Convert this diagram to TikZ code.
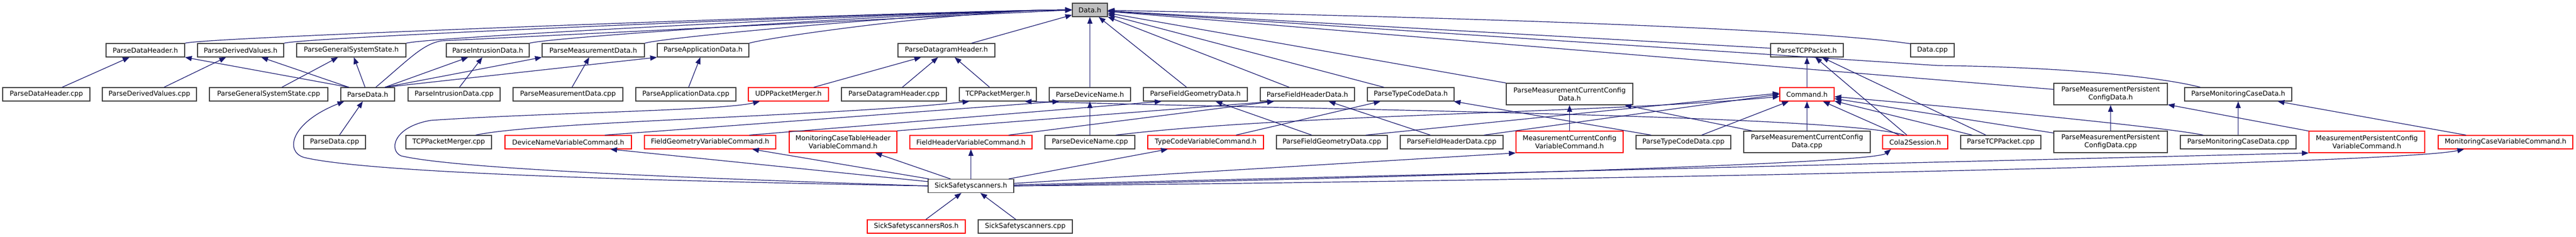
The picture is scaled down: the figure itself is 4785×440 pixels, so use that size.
\documentclass[tikz,border=0pt]{standalone}
\usepackage{fontspec}
\usetikzlibrary{arrows.meta}
\newfontfamily\doxfont{DejaVu Sans}
\definecolor{edgeblue}{HTML}{191970}
\definecolor{boxgray}{HTML}{404040}
\definecolor{rootgray}{HTML}{BFBFBF}
\tikzset{
  file/.style={draw=boxgray, line width=1.3pt, fill=white, inner sep=0pt, minimum height=25pt, font={\doxfont\fontsize{12.6}{15}\selectfont}},
  trunc/.style={file, draw=red},
  root/.style={file, fill=rootgray},
  twoline/.style={minimum height=40pt, align=center},
  incl/.style={draw=edgeblue, line width=1.2pt, -{Triangle[length=12.5pt, width=9.5pt]}}
}
\begin{document}
\begin{tikzpicture}[x=1pt, y=-1pt]
    \useasboundingbox (0,0) rectangle (4785,440);

    \node[root, minimum width=65pt] (data_h) at (2024.5,18.5) {Data.h};

    \node[file, minimum width=146pt] (pdh_h) at (270,93.5) {ParseDataHeader.h};
    \node[file, minimum width=160pt] (pdv_h) at (447,93.5) {ParseDerivedValues.h};
    \node[file, minimum width=203pt] (pgs_h) at (652.5,93.5) {ParseGeneralSystemState.h};
    \node[file, minimum width=154pt] (pid_h) at (906,93.5) {ParseIntrusionData.h};
    \node[file, minimum width=190pt] (pmd_h) at (1102,93.5) {ParseMeasurementData.h};
    \node[file, minimum width=170pt] (pad_h) at (1306,93.5) {ParseApplicationData.h};
    \node[file, minimum width=180pt] (pdg_h) at (1758,93.5) {ParseDatagramHeader.h};
    \node[file, minimum width=135pt] (ptcp_h) at (3356.5,93.5) {ParseTCPPacket.h};
    \node[file, minimum width=81pt] (data_cpp) at (3589.5,93.5) {Data.cpp};

    \node[file, minimum width=162pt] (pdh_cpp) at (86,175.5) {ParseDataHeader.cpp};
    \node[file, minimum width=175pt] (pdv_cpp) at (277.5,175.5) {ParseDerivedValues.cpp};
    \node[file, minimum width=220pt] (pgs_cpp) at (499,175.5) {ParseGeneralSystemState.cpp};
    \node[file, minimum width=100pt] (pd_h) at (683,175.5) {ParseData.h};
    \node[file, minimum width=171pt] (pid_cpp) at (843.5,175.5) {ParseIntrusionData.cpp};
    \node[file, minimum width=204pt] (pmd_cpp) at (1055,175.5) {ParseMeasurementData.cpp};
    \node[file, minimum width=186pt] (pad_cpp) at (1274,175.5) {ParseApplicationData.cpp};
    \node[trunc, minimum width=149pt] (udp_h) at (1464.5,175.5) {UDPPacketMerger.h};
    \node[file, minimum width=195pt] (pdg_cpp) at (1660.5,175.5) {ParseDatagramHeader.cpp};
    \node[file, minimum width=143pt] (tcpm_h) at (1853.5,175.5) {TCPPacketMerger.h};
    \node[file, minimum width=151pt] (pdn_h) at (2024.5,175.5) {ParseDeviceName.h};
    \node[file, minimum width=193pt] (pfg_h) at (2220.5,175.5) {ParseFieldGeometryData.h};
    \node[file, minimum width=175pt] (pfh_h) at (2428.5,175.5) {ParseFieldHeaderData.h};
    \node[file, minimum width=161pt] (ptc_h) at (2620.5,175.5) {ParseTypeCodeData.h};
    \node[file, twoline, minimum width=235pt] (pmcc_h) at (2915.5,175) {ParseMeasurementCurrentConfig\\Data.h};
    \node[trunc, minimum width=101pt] (cmd_h) at (3356.5,175.5) {Command.h};
    \node[file, twoline, minimum width=211pt] (pmpc_h) at (3920.5,175) {ParseMeasurementPersistent\\ConfigData.h};
    \node[file, minimum width=199pt] (pmc_h) at (4157.5,175.5) {ParseMonitoringCaseData.h};

    \node[file, minimum width=115pt] (pd_cpp) at (621.5,264.5) {ParseData.cpp};
    \node[file, minimum width=159pt] (tcpm_cpp) at (833.5,264.5) {TCPPacketMerger.cpp};
    \node[trunc, minimum width=235pt] (dnvc_h) at (1055.5,264.5) {DeviceNameVariableCommand.h};
    \node[trunc, minimum width=244pt] (fgvc_h) at (1319,264.5) {FieldGeometryVariableCommand.h};
    \node[trunc, twoline, minimum width=200pt] (mcthvc_h) at (1566,264) {MonitoringCaseTableHeader\\VariableCommand.h};
    \node[trunc, minimum width=227pt] (fhvc_h) at (1803.5,264.5) {FieldHeaderVariableCommand.h};
    \node[file, minimum width=167pt] (pdn_cpp) at (2024.5,264.5) {ParseDeviceName.cpp};
    \node[trunc, minimum width=215pt] (tcvc_h) at (2239.5,264.5) {TypeCodeVariableCommand.h};
    \node[file, minimum width=206pt] (pfg_cpp) at (2474,264.5) {ParseFieldGeometryData.cpp};
    \node[file, minimum width=191pt] (pfh_cpp) at (2696.5,264.5) {ParseFieldHeaderData.cpp};
    \node[trunc, twoline, minimum width=199pt] (mccvc_h) at (2915.5,264) {MeasurementCurrentConfig\\VariableCommand.h};
    \node[file, minimum width=176pt] (ptc_cpp) at (3127,264.5) {ParseTypeCodeData.cpp};
    \node[file, twoline, minimum width=235pt] (pmcc_cpp) at (3356.5,264) {ParseMeasurementCurrentConfig\\Data.cpp};
    \node[trunc, minimum width=121pt] (cola_h) at (3557.5,264.5) {Cola2Session.h};
    \node[file, minimum width=149pt] (ptcp_cpp) at (3716.5,264.5) {ParseTCPPacket.cpp};
    \node[file, twoline, minimum width=211pt] (pmpc_cpp) at (3920.5,264) {ParseMeasurementPersistent\\ConfigData.cpp};
    \node[file, minimum width=215pt] (pmc_cpp) at (4157.5,264.5) {ParseMonitoringCaseData.cpp};
    \node[trunc, twoline, minimum width=215pt] (mpcvc_h) at (4396.5,264) {MeasurementPersistentConfig\\VariableCommand.h};
    \node[trunc, minimum width=250pt] (mcvc_h) at (4654,264.5) {MonitoringCaseVariableCommand.h};

    \node[file, minimum width=159pt] (ss_h) at (1803.5,346) {SickSafetyscanners.h};
    \node[trunc, minimum width=182pt] (ssros_h) at (1702,421.5) {SickSafetyscannersRos.h};
    \node[file, minimum width=175pt] (ss_cpp) at (1904.5,421.5) {SickSafetyscanners.cpp};

    \draw[incl] (pdh_h.north east) .. controls +(40,-12) and +(-200,0) .. (data_h.west);
    \draw[incl] (pdv_h.north east) .. controls +(40,-12) and +(-200,0) .. (data_h.west);
    \draw[incl] (pgs_h.north east) .. controls +(40,-12) and +(-200,0) .. (data_h.west);
    \draw[incl] (pid_h.north east) .. controls +(40,-12) and +(-200,0) .. (data_h.west);
    \draw[incl] (pmd_h.north east) .. controls +(40,-12) and +(-200,0) .. (data_h.west);
    \draw[incl] (pad_h.north east) .. controls +(40,-12) and +(-200,0) .. (data_h.west);
    \draw[incl] ([xshift=15pt]pd_h.north) .. controls (760,110) and (785,82) .. (820,76) -- (data_h.west);
    \draw[incl] (pdg_h) -- (data_h);
    \draw[incl] (pdn_h) -- (data_h);
    \draw[incl] (pfg_h) -- (data_h);
    \draw[incl] (pfh_h) -- (data_h);
    \draw[incl] (ptc_h) -- (data_h);
    \draw[incl] (pmcc_h) -- (data_h);
    \draw[incl] (ptcp_h) -- (data_h);
    \draw[incl] ([yshift=-1pt]data_cpp.north west) .. controls (3420,62) and (3000,38) .. (data_h);
    \draw[incl] (pmpc_h) -- (data_h);
    \draw[incl] ([xshift=30pt]pmc_h.north west) .. controls (4000,140) and (3800,124) .. (3600,122) -- (data_h);

    \draw[incl] (pdh_cpp) -- (pdh_h);
    \draw[incl] ([xshift=-35pt]pd_h.north) -- (pdh_h.south east);
    \draw[incl] (pdv_cpp) -- (pdv_h);
    \draw[incl] ([xshift=-35pt]pd_h.north) -- (pdv_h);
    \draw[incl] (pgs_cpp) -- (pgs_h);
    \draw[incl] (pd_h) -- (pgs_h);
    \draw[incl] (pid_cpp) -- (pid_h);
    \draw[incl] ([xshift=32pt]pd_h.north) -- (pid_h);
    \draw[incl] (pmd_cpp) -- (pmd_h);
    \draw[incl] ([xshift=32pt]pd_h.north) -- (pmd_h.south west);
    \draw[incl] (pad_cpp) -- (pad_h);
    \draw[incl] ([xshift=32pt]pd_h.north) -- (pad_h.south west);
    \draw[incl] (pdg_cpp) -- (pdg_h);
    \draw[incl] (udp_h) -- (pdg_h);
    \draw[incl] (tcpm_h) -- (pdg_h);
    \draw[incl] (cmd_h) -- (ptcp_h);
    \draw[incl] (cola_h) -- (ptcp_h);
    \draw[incl] (ptcp_cpp) -- (ptcp_h);

    \draw[incl] (pd_cpp) -- (pd_h);
    \draw[incl] (ss_h.west) .. controls (1300,338) and (700,325) .. (565,293) .. controls (528,282) and (540,228) .. ([xshift=7pt]pd_h.south west);
    \draw[incl] (ss_h.west) .. controls (1300,332) and (850,315) .. (745,290) .. controls (722,280) and (730,236) .. (800,224) .. controls (1000,210) and (1340,206) .. ([xshift=22pt]udp_h.south west);
    \draw[incl] ([xshift=50pt]tcpm_cpp.north) .. controls (1000,226) and (1550,216) .. ([xshift=-53pt]tcpm_h.south);
    \draw[incl] ([xshift=-20pt]cola_h.north) .. controls (3420,215) and (2500,205) .. ([xshift=50pt]tcpm_h.south);
    \draw[incl] (pdn_cpp) -- (pdn_h);
    \draw[incl] ([xshift=68pt]dnvc_h.north) -- ([xshift=-57pt]pdn_h.south);
    \draw[incl] ([xshift=73pt]fgvc_h.north) -- ([xshift=-63pt]pfg_h.south);
    \draw[incl] (pfg_cpp) -- (pfg_h);
    \draw[incl] (mcthvc_h.north east) -- ([xshift=-62pt]pfh_h.south);
    \draw[incl] ([xshift=70pt]fhvc_h.north) -- ([xshift=-62pt]pfh_h.south);
    \draw[incl] (pfh_cpp) -- (pfh_h);
    \draw[incl] (tcvc_h) -- (ptc_h);
    \draw[incl] ([xshift=-60pt]ptc_cpp.north) -- ([xshift=80pt]ptc_h.south);
    \draw[incl] (mccvc_h) -- (pmcc_h);
    \draw[incl] (pmcc_cpp) -- (pmcc_h);
    \draw[incl] ([xshift=48pt]pdn_cpp.north) .. controls (2400,212) and (3000,210) .. ([yshift=-4pt]cmd_h.west);
    \draw[incl] ([xshift=63pt]pfg_cpp.north) -- ([yshift=2pt]cmd_h.west);
    \draw[incl] ([xshift=60pt]pfh_cpp.north) -- (cmd_h.west);
    \draw[incl] (ptc_cpp) -- (cmd_h);
    \draw[incl] (pmcc_cpp) -- (cmd_h);
    \draw[incl] (cola_h) -- (cmd_h);
    \draw[incl] (pmpc_cpp) -- (cmd_h);
    \draw[incl] ([xshift=-65pt]pmc_cpp.north) .. controls (4030,238) and (3700,205) .. (cmd_h);
    \draw[incl] (ptcp_cpp) -- (cmd_h);
    \draw[incl] (pmpc_cpp) -- (pmpc_h);
    \draw[incl] (mpcvc_h) -- (pmpc_h);
    \draw[incl] (pmc_cpp) -- (pmc_h);
    \draw[incl] (mcvc_h) -- (pmc_h);

    \draw[incl] (ss_h) -- ([xshift=-40pt]dnvc_h.south east);
    \draw[incl] (ss_h) -- (fgvc_h);
    \draw[incl] (ss_h) -- (mcthvc_h);
    \draw[incl] (ss_h) -- (fhvc_h);
    \draw[incl] (ss_h) -- (tcvc_h);
    \draw[incl] (ss_h) -- (mccvc_h.south west);
    \draw[incl] (ss_h.east) .. controls (2600,330) and (3480,305) .. ([xshift=-45pt]cola_h.south);
    \draw[incl] (ss_h) -- (mpcvc_h.south west);
    \draw[incl] (ss_h.east) .. controls (3000,335) and (4450,305) .. ([xshift=-77pt]mcvc_h.south);

    \draw[incl] (ssros_h) -- (ss_h);
    \draw[incl] (ss_cpp) -- (ss_h);
\end{tikzpicture}
\end{document}
